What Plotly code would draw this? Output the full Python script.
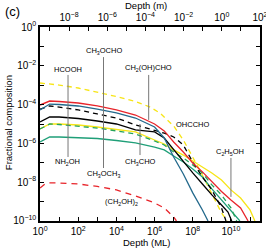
import plotly.graph_objects as go

# ---- data (depth in ML, fractional composition) ----
d_ch2ohcho = [1, 3.2, 10, 1e2, 1e3, 1e4, 1e5, 1e6, 3.2e6, 1e7, 3.2e7, 1e8, 3.2e8, 1e9, 3.2e9, 1e10, 3.2e10, 7.9e10]
v_ch2ohcho = [9.5e-5, 1.53e-4, 1.45e-4, 1.21e-4, 8.5e-5, 5.3e-5, 2.9e-5, 1.0e-5, 4.4e-6, 1.18e-6, 3.6e-7, 9.8e-8, 3.4e-8, 1.02e-8, 3.3e-9, 1.21e-9, 4.7e-10, 1.0e-10]

d_hcooh = [1, 3.2, 10, 1e2, 1e3, 1e4, 1e5, 1e6, 3.2e6, 1e7, 3.2e7, 1e8, 3.2e8, 6.3e8]
v_hcooh = [5.3e-5, 1.07e-4, 1.01e-4, 8.5e-5, 5.9e-5, 3.7e-5, 2.04e-5, 7.0e-6, 1.9e-6, 2.0e-7, 2.65e-8, 2.8e-9, 3.7e-10, 1.0e-10]

d_ch3cho = [1, 3.2, 10, 1e2, 1e3, 1e4, 1e5, 1e6, 3.2e6, 1e7, 3.2e7, 1e8, 3.2e8, 1e9, 3.2e9, 5.5e9]
v_ch3cho = [5.9e-5, 8.5e-5, 7.5e-5, 5.3e-5, 3.3e-5, 2.04e-5, 9.0e-6, 4.9e-6, 3.4e-6, 2.14e-6, 8.3e-7, 1.1e-7, 1.85e-8, 4.0e-9, 4.7e-10, 1.0e-10]

d_ch3ocho = [1, 3.2, 10, 1e2, 1e3, 1e4, 1e5, 1e6, 3.2e6, 1e7, 3.2e7, 1e8, 3.2e8, 1e9, 3.2e9, 7.0e9, 1.1e10]
v_ch3ocho = [1.27e-5, 2.3e-5, 2.3e-5, 1.92e-5, 1.43e-5, 1.0e-5, 5.0e-6, 3.9e-6, 1.9e-6, 4.6e-7, 1.24e-7, 3.0e-8, 8.1e-9, 2.2e-9, 6.7e-10, 2.9e-10, 1.0e-10]

d_ohccho = [1, 10, 1e2, 1e3, 1e4, 1e5, 5.8e5, 1.9e6, 5.0e6, 1e7, 3.2e7, 1e8, 2.3e8, 1e9, 3.2e9, 6.3e9]
v_ohccho = [1.3e-3, 1.02e-3, 7.18e-4, 4.46e-4, 2.62e-4, 1.45e-4, 7.5e-5, 3.7e-5, 1.43e-5, 7.9e-6, 1.5e-6, 2.0e-7, 4.3e-8, 2.5e-9, 2.6e-10, 1.0e-10]

d_c2h5oh = [1, 3.2, 10, 1e2, 1e3, 1e4, 1e5, 1e6, 3.2e6, 1e7, 3.2e7, 1e8, 3.2e8, 1e9, 3.2e9, 1e10, 3.2e10, 1e11, 1.8e11]
v_c2h5oh = [5.5e-6, 1.0e-5, 1.0e-5, 8.9e-6, 7.0e-6, 5.2e-6, 3.9e-6, 1.5e-6, 9.3e-7, 4.6e-7, 2.5e-7, 1.24e-7, 6.1e-8, 3.0e-8, 1.3e-8, 4.0e-9, 1.53e-9, 3.7e-10, 1.0e-10]

d_nh2oh = [1, 3.2, 10, 1e2, 1e3, 1e4, 1e5, 1e6, 3.2e6, 1e7, 3.2e7, 1e8, 3.2e8, 1e9, 3.2e9, 1e10, 2.0e10]
v_nh2oh = [5.5e-6, 1.0e-5, 9.4e-6, 7.9e-6, 6.2e-6, 4.4e-6, 3.05e-6, 1.33e-6, 8.3e-7, 3.6e-7, 1.77e-7, 7.7e-8, 3.0e-8, 7.2e-9, 2.2e-9, 4.7e-10, 1.0e-10]

d_ch3och3 = [1, 3.2, 10, 1e2, 1e3, 1e4, 1e5, 1e6, 3.2e6, 1e7, 3.2e7, 1e8, 3.2e8, 1e9, 3.2e9, 1e10, 2.95e10]
v_ch3och3 = [1.18e-6, 2.14e-6, 2.14e-6, 2.01e-6, 1.79e-6, 1.41e-6, 1.05e-6, 6.5e-7, 4.6e-7, 2.24e-7, 1.1e-7, 4.8e-8, 1.85e-8, 4.5e-9, 1.21e-9, 3.3e-10, 1.0e-10]

d_ch2oh2 = [1, 1.8, 3.2, 10, 1e2, 1e3, 1e4, 1e5, 1e6, 3.2e6, 1e7, 1.4e7]
v_ch2oh2 = [5.0e-9, 8.1e-9, 9.1e-9, 9.1e-9, 8.1e-9, 6.0e-9, 4.0e-9, 1.95e-9, 8.5e-10, 4.7e-10, 1.6e-10, 1.0e-10]

ML_PER_M_LOG = 9.52  # log10(ML per metre)

bottom_ticks = [10**k for k in range(0, 12)]
bottom_text = [f"10<sup>{k}</sup>" if k % 2 == 0 else "" for k in range(0, 12)]
top_ticks = [10**k for k in range(-9, 3)]
top_text = [(f"10<sup>{k}</sup>" if k >= 0 else f"10<sup>\u2212{-k}</sup>") if k % 2 == 0 else "" for k in range(-9, 3)]
left_ticks = [10**k for k in range(-10, 1)]
left_text = [(f"10<sup>{k}</sup>" if k >= 0 else f"10<sup>\u2212{-k}</sup>") if k % 2 == 0 else "" for k in range(-10, 1)]

RED = "#e8242a"
BLUE = "#23698c"
YEL = "#f7e516"
GRN = "#1f9f78"
GRN2 = "#24a35a"
BLK = "#000000"

series = [
    ("OHCCHO", d_ohccho, v_ohccho, YEL, "5px,4px"),
    ("(CH2OH)2", d_ch2oh2, v_ch2oh2, RED, "6px,5px"),
    ("CH3OCH3", d_ch3och3, v_ch3och3, GRN, "solid"),
    ("C2H5OH", d_c2h5oh, v_c2h5oh, YEL, "solid"),
    ("NH2OH", d_nh2oh, v_nh2oh, GRN2, "5px,4px"),
    ("CH3OCHO", d_ch3ocho, v_ch3ocho, BLK, "solid"),
    ("CH3CHO", d_ch3cho, v_ch3cho, BLK, "5px,4px"),
    ("HCOOH", d_hcooh, v_hcooh, BLUE, "solid"),
    ("CH2(OH)CHO", d_ch2ohcho, v_ch2ohcho, RED, "solid"),
]

fig = go.Figure()
for name, xs, ys, col, dash in series:
    fig.add_trace(go.Scatter(x=xs, y=ys, mode="lines", name=name,
                             line=dict(color=col, width=1.3, dash=dash),
                             showlegend=False, hoverinfo="skip"))

# dummy trace to carry the top (metre) axis
fig.add_trace(go.Scatter(x=[1e-9, 1e2], y=[1e-5, 1e-5], xaxis="x2", mode="lines",
                         line=dict(width=0, color="rgba(0,0,0,0)"),
                         showlegend=False, hoverinfo="skip"))

FONT = "Liberation Sans, Arial, Helvetica, sans-serif"
LBL = dict(family=FONT, size=7.5, color="black")

# label positions in log10 coords (x: log10 ML, y: log10 fraction)
labels = [
    ("HCOOH", 1.47, -2.17),
    ("CH<sub>3</sub>OCHO", 3.33, -1.24),
    ("CH<sub>2</sub>(OH)CHO", 5.68, -2.11),
    ("OHCCHO", 7.98, -5.0),
    ("C<sub>2</sub>H<sub>5</sub>OH", 9.97, -6.44),
    ("NH<sub>2</sub>OH", 1.44, -6.96),
    ("CH<sub>3</sub>OCH<sub>3</sub>", 3.33, -7.58),
    ("CH<sub>3</sub>CHO", 5.24, -6.96),
    ("(CH<sub>2</sub>OH)<sub>2</sub>", 4.27, -9.02),
]
annotations = [dict(text=t, x=x, y=y, xref="x", yref="y", showarrow=False,
                    xanchor="center", yanchor="middle", font=LBL) for t, x, y in labels]

stems = [
    (1.466, -2.47, -3.97),
    (1.466, -3.97, -6.70),
    (3.325, -1.55, -5.21),
    (3.325, -5.21, -7.27),
    (5.691, -2.47, -4.79),
    (5.236, -5.0, -6.60),
    (10.0, -6.75, -8.76),
]
shapes = [dict(type="line", xref="x", yref="y", x0=10**x, x1=10**x, y0=10**y0, y1=10**y1,
               line=dict(color="#777777", width=1)) for x, y0, y1 in stems]

TF = dict(family=FONT, size=10, color="black")
TT = dict(family=FONT, size=9.5, color="black")
annotations += [
    dict(text="Fractional composition", xref="paper", yref="paper", x=-0.145, y=0.505,
         xanchor="center", yanchor="middle", textangle=-90, showarrow=False, font=TT),
    dict(text="Depth (ML)", xref="paper", yref="paper", x=0.486, y=-0.113,
         xanchor="center", yanchor="middle", showarrow=False, font=TT),
    dict(text="Depth (m)", xref="paper", yref="paper", x=0.482, y=1.112,
         xanchor="center", yanchor="middle", showarrow=False, font=TT),
    dict(text="(c)", xref="paper", yref="paper", x=-0.127, y=1.082,
         xanchor="center", yanchor="middle", showarrow=False,
         font=dict(family=FONT, size=13, color="black")),
]

common = dict(ticks="inside", ticklen=4, tickwidth=1, tickcolor="black",
              showline=True, linecolor="black", linewidth=1.5, showgrid=False,
              zeroline=False, tickfont=TF, automargin=False, ticklabeloverflow="allow")

fig.update_layout(
    template="none",
    width=266, height=250,
    margin=dict(l=40, r=6, t=27, b=29, pad=0),
    paper_bgcolor="white", plot_bgcolor="white",
    font=TF,
    xaxis=dict(type="log", range=[-0.002, 11.522], tickvals=bottom_ticks, ticktext=bottom_text, **common),
    xaxis2=dict(type="log", overlaying="x", side="top",
                range=[-0.002 - ML_PER_M_LOG, 11.522 - ML_PER_M_LOG],
                tickvals=top_ticks, ticktext=top_text, **common),
    yaxis=dict(type="log", range=[-10.002, 0.002], tickvals=left_ticks, ticktext=left_text,
               mirror="ticks", **common),
    annotations=annotations,
    shapes=shapes,
)

fig.write_html("out.html", config={"displayModeBar": False, "responsive": False},
               post_script="document.body.style.margin='0';document.body.style.overflow='hidden';")
